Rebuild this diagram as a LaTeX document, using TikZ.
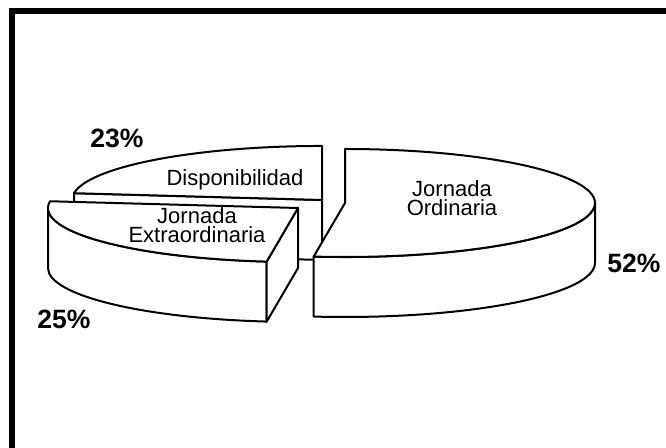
\documentclass[tikz,border=0pt]{standalone}
\usepackage{fontspec}
\setmainfont{Liberation Sans}
\tikzset{
  slice/.style={draw=black, fill=white, line width=1pt, line join=round},
  lbl/.style={font=\fontsize{11}{9.5}\selectfont, align=center, anchor=base, inner sep=0pt},
  pct/.style={font=\fontsize{13.25}{15}\selectfont\bfseries, anchor=base, inner sep=0pt}
}
\begin{document}
\begin{tikzpicture}[x=0.5pt,y=0.5pt]
			\useasboundingbox (0,0) rectangle (666,-448);
			\draw[line width=3pt] (12,-448) -- (12,-11) -- (666,-11);
			% Disponibilidad (back)
			\filldraw[slice] (74,-193.2) -- (322,-200) -- (322,-260) -- (74,-253.2) -- cycle;
			\filldraw[slice] (322,-200) -- (74,-193.2) arc[start angle=172.8,end angle=90,x radius=250,y radius=54] -- cycle;
			% Jornada Extraordinaria
			\filldraw[slice] (48,-208) -- (48,-268) arc[start angle=180,end angle=262.8,x radius=250,y radius=54] -- (266.7,-261.6) arc[start angle=262.8,end angle=180,x radius=250,y radius=54] -- cycle;
			\filldraw[slice] (298,-208) -- (266.7,-261.6) -- (266.7,-321.6) -- (298,-268) -- cycle;
			\filldraw[slice] (298,-208) -- (266.7,-261.6) arc[start angle=262.8,end angle=172.8,x radius=250,y radius=54] -- cycle;
			% Jornada Ordinaria
			\filldraw[slice] (595,-203) -- (595,-263) arc[start angle=0,end angle=-97.2,x radius=250,y radius=54] -- (313.7,-256.6) arc[start angle=-97.2,end angle=0,x radius=250,y radius=54] -- cycle;
			\filldraw[slice] (345,-203) -- (345,-149) arc[start angle=90,end angle=-97.2,x radius=250,y radius=54] -- cycle;
			% labels
			\node[lbl] (disp) at (235,-186) {Disponibilidad};
			\node[lbl] (extra) at (197,-243) {Jornada\\Extraordinaria};
			\node[lbl] (ordi) at (452,-216) {Jornada\\Ordinaria};
			\node[pct] (p23) at (117,-148) {23\%};
			\node[pct] (p25) at (64,-329) {25\%};
			\node[pct] (p52) at (634,-273) {52\%};
		\end{tikzpicture}
\end{document}
